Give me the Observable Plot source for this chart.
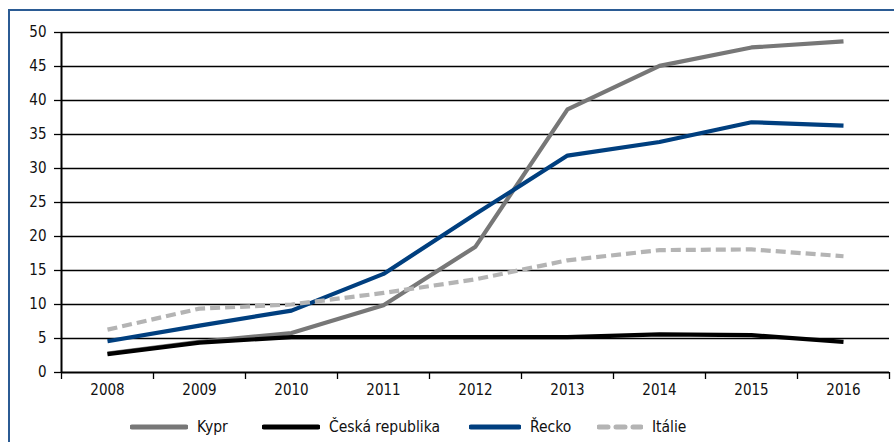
<!DOCTYPE html>
<html>
<head>
<meta charset="utf-8">
<script src="https://cdn.jsdelivr.net/npm/d3@7"></script>
<script src="https://cdn.jsdelivr.net/npm/@observablehq/plot@0.6"></script>
<style>
  html, body { margin: 0; padding: 0; background: #fff; }
  body { width: 894px; height: 442px; position: relative; overflow: hidden;
         font-family: "Liberation Sans Narrow", "DejaVu Sans Condensed", "Open Sans", sans-serif; }
  #frame { position: absolute; left: 8px; top: 9px; width: 1000px; height: 1000px;
           border-left: 2px solid #2b5b94; border-top: 2px solid #2b5b94; }
  #chart { position: absolute; left: 0; top: 0; }
  #legend { position: absolute; left: 0; top: 405px; width: 894px; height: 37px; }
  .item { position: absolute; top: 13px; font-size: 15.5px; color: #111; line-height: 18px; display: flex; align-items: center; }
  .sw { display: inline-block; margin-right: 9px; }
</style>
</head>
<body>
<div id="frame"></div>
<div id="chart"></div>
<div id="legend"></div>
<script>
const years = [2008, 2009, 2010, 2011, 2012, 2013, 2014, 2015, 2016];
const seriesNames = ["Kypr", "Česká republika", "Řecko", "Itálie"];
const kypr   = [2.8, 4.5, 5.8, 9.9, 18.5, 38.7, 45.1, 47.8, 48.7];
const cesko  = [2.7, 4.4, 5.2, 5.2, 5.2, 5.2, 5.6, 5.5, 4.5];
const recko  = [4.6, 6.9, 9.1, 14.5, 23.3, 31.9, 33.9, 36.8, 36.3];
const italie = [6.3, 9.4, 10.0, 11.7, 13.7, 16.5, 18.0, 18.1, 17.1];
const yTicks = [0, 5, 10, 15, 20, 25, 30, 35, 40, 45, 50];

const colors = {"Kypr": "#777777", "Česká republika": "#000000", "Řecko": "#003f7f", "Itálie": "#b4b4b4"};
const dashes = {"Kypr": null, "Česká republika": null, "Řecko": null, "Itálie": "10,5"};

const allValues = [kypr, cesko, recko, italie];
const rows = [];
seriesNames.forEach((s, i) => years.forEach((y, j) => rows.push({series: s, year: y, value: allValues[i][j]})));

const bounds = d3.range(years.length + 1).map(i => years[0] - 0.5 + i);

const lineMarks = seriesNames.map(s => Plot.line(rows.filter(r => r.series === s), {
  x: "year", y: "value", stroke: colors[s], strokeWidth: 4.2,
  strokeDasharray: dashes[s], strokeLinecap: "butt", strokeLinejoin: "round"
}));

const plot = Plot.plot({
  width: 894,
  height: 405,
  marginTop: 32,
  marginLeft: 61,
  marginRight: 5,
  marginBottom: 33,
  style: {fontFamily: "'Liberation Sans Narrow', 'DejaVu Sans Condensed', sans-serif", fontSize: "15px", color: "#111", background: "transparent"},
  x: {domain: [bounds[0], bounds[bounds.length - 1]]},
  y: {domain: [0, 50]},
  marks: [
    Plot.gridY(yTicks.slice(1), {stroke: "#000", strokeOpacity: 1, strokeWidth: 1.3}),
    Plot.axisY(yTicks, {tickSize: 7, tickPadding: 8, stroke: "#000", strokeWidth: 1.3, label: null, fontSize: 15}),
    Plot.axisX(bounds, {tickSize: 7, tickFormat: () => "", stroke: "#000", strokeWidth: 1.3, label: null}),
    Plot.axisX(years, {tickSize: 0, tickPadding: 12, tickFormat: d => String(d), label: null, fontSize: 15}),
    ...lineMarks,
    Plot.ruleY([0], {stroke: "#000", strokeWidth: 2}),
    Plot.ruleX([bounds[0]], {stroke: "#000", strokeWidth: 2})
  ]
});
document.getElementById("chart").appendChild(plot);

// legend
const legendPos = [
  {s: "Kypr", left: 130},
  {s: "Česká republika", left: 262},
  {s: "Řecko", left: 469},
  {s: "Itálie", left: 597}
];
const legend = document.getElementById("legend");
legendPos.forEach(({s, left}) => {
  const div = document.createElement("div");
  div.className = "item";
  div.style.left = left + "px";
  const w = s === "Itálie" ? 46 : (s === "Řecko" ? 52 : 58);
  const svg = d3.create("svg").attr("class", "sw").attr("width", w).attr("height", 8);
  svg.append("line").attr("x1", 2).attr("x2", w - 2).attr("y1", 4).attr("y2", 4)
    .attr("stroke", colors[s]).attr("stroke-width", 5).attr("stroke-linecap", "round")
    .attr("stroke-dasharray", s === "Itálie" ? "9,8" : null);
  div.appendChild(svg.node());
  const t = document.createElement("span");
  t.textContent = s;
  div.appendChild(t);
  legend.appendChild(div);
});
</script>
</body>
</html>
